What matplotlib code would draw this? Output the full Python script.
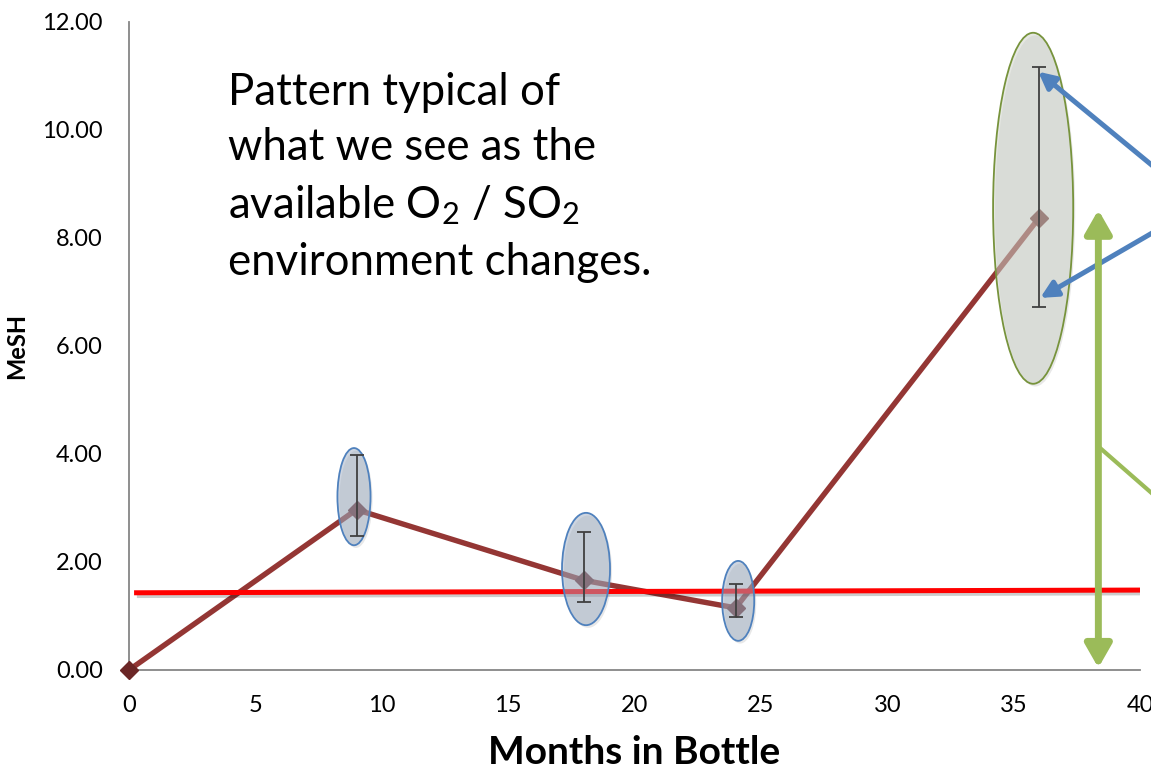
import matplotlib
matplotlib.use("Agg")
import matplotlib.pyplot as plt
from matplotlib.patches import Ellipse
import matplotlib.patheffects as pe

plt.rcParams['font.family'] = ['Lato', 'DejaVu Sans']
plt.rcParams['mathtext.fontset'] = 'custom'
plt.rcParams['mathtext.rm'] = 'Lato'
plt.rcParams['mathtext.it'] = 'Lato'

# data
months = [0, 9, 18, 24, 36]
mesh = [0.0, 2.97, 1.66, 1.15, 8.37]
err_low = [0.0, 2.49, 1.25, 0.99, 6.72]
err_high = [0.0, 3.98, 2.56, 1.59, 11.17]

# reference (red) line
ref_x = [0.2, 40.0]
ref_y = [1.43, 1.48]

xticks = [0, 5, 10, 15, 20, 25, 30, 35, 40]
yticks = [0, 2, 4, 6, 8, 10, 12]

fig = plt.figure(figsize=(11.51, 7.71), dpi=100)
ax = fig.add_axes([0.1121, 0.131, 0.8784, 0.8405])
ax.set_xlim(0, 40)
ax.set_ylim(0, 12)

lshadow = [pe.SimpleLineShadow(offset=(2, -2), alpha=0.2), pe.Normal()]

ax.plot(months, mesh, color='#943634', linewidth=3.9, zorder=3, clip_on=False)
ax.plot(months, mesh, linestyle='none', marker='D', markersize=9,
        color='#6b2626', zorder=4, clip_on=False)

yerr = [[m - lo for m, lo in zip(mesh, err_low)],
        [hi - m for m, hi in zip(mesh, err_high)]]
ax.errorbar(months[1:], mesh[1:], yerr=[yerr[0][1:], yerr[1][1:]], fmt='none',
            ecolor='#404040', elinewidth=1.3, capsize=5, capthick=1.3, zorder=6)

ax.plot(ref_x, ref_y, color='#ff0000', linewidth=3.6, zorder=5,
        path_effects=lshadow, solid_capstyle='butt')


def add_ellipse(cx, cy, w, h, fill, edge):
    # faint drop shadow, then translucent body
    sh = Ellipse((cx + 0.08, cy - 0.05), w, h, edgecolor='none', zorder=4.9)
    sh.set_facecolor((0.5, 0.5, 0.5, 0.18))
    ax.add_patch(sh)
    body = Ellipse((cx, cy), w, h, edgecolor=edge, linewidth=1.3, zorder=5)
    body.set_facecolor(fill)
    ax.add_patch(body)


# annotation ellipses (center x, center y, width, height)
blue_ell = [(8.9, 3.21, 1.31, 1.80), (18.08, 1.87, 1.90, 2.08), (24.1, 1.28, 1.27, 1.48)]
for cx, cy, w, h in blue_ell:
    add_ellipse(cx, cy, w, h, (0.62, 0.68, 0.76, 0.5), '#4f81bd')
add_ellipse(35.77, 8.55, 3.17, 6.5, (0.80, 0.82, 0.78, 0.5), '#77933c')

# arrows
blue_kw = dict(arrowstyle='-|>,head_length=1.0,head_width=0.5', color='#4f81bd',
               lw=3.6, shrinkA=0, shrinkB=0)
ax.annotate('', xy=(35.97, 11.08), xytext=(41.5, 8.95), arrowprops=blue_kw,
            annotation_clip=False, zorder=7)
ax.annotate('', xy=(36.05, 6.89), xytext=(41.5, 8.37), arrowprops=blue_kw,
            annotation_clip=False, zorder=7)

green_kw = dict(arrowstyle='<|-|>,head_length=1.4,head_width=0.8', color='#9bbb59',
                lw=5, shrinkA=0, shrinkB=0)
ax.annotate('', xy=(38.35, 8.52), xytext=(38.35, 0.04), arrowprops=green_kw,
            annotation_clip=False, zorder=7)
ax.plot([38.42, 41.5], [4.11, 2.85], color='#9bbb59', linewidth=3, zorder=7,
        clip_on=False)

ax.text(3.9, 11.08,
        'Pattern typical of\nwhat we see as the\navailable O$_2$ / SO$_2$\nenvironment changes.',
        fontsize=31.5, va='top', ha='left', linespacing=1.44, color='black')

for side in ['top', 'right']:
    ax.spines[side].set_visible(False)
for side in ['left', 'bottom']:
    ax.spines[side].set_color('#868686')
    ax.spines[side].set_linewidth(1.3)

ax.set_xticks(xticks)
ax.set_xticklabels([str(t) for t in xticks])
ax.set_yticks(yticks)
ax.set_yticklabels(['%.2f' % t for t in yticks])
ax.tick_params(length=0, labelsize=17, pad=18)
ax.tick_params(axis='y', pad=19)

ax.set_xlabel('Months in Bottle', fontsize=28, fontweight='bold')
ax.xaxis.set_label_coords(0.5, -0.101)
ax.set_ylabel('MeSH', fontsize=17, fontweight='bold')
ax.yaxis.set_label_coords(-0.1, 0.5)

fig.savefig('out.png', dpi=100)
